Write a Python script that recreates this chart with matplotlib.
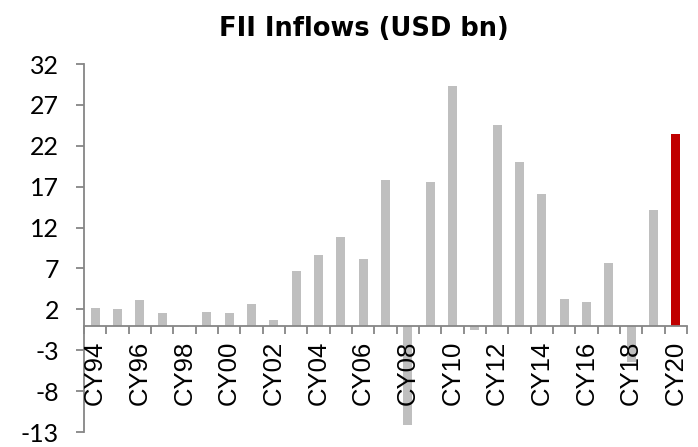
import matplotlib
matplotlib.use('Agg')
import matplotlib.pyplot as plt
import numpy as np

years = ['CY94', 'CY95', 'CY96', 'CY97', 'CY98', 'CY99', 'CY00', 'CY01', 'CY02',
         'CY03', 'CY04', 'CY05', 'CY06', 'CY07', 'CY08', 'CY09', 'CY10', 'CY11',
         'CY12', 'CY13', 'CY14', 'CY15', 'CY16', 'CY17', 'CY18', 'CY19', 'CY20']
inflows = [2.2, 2.1, 3.1, 1.6, -0.2, 1.7, 1.5, 2.7, 0.7,
           6.7, 8.6, 10.8, 8.1, 17.8, -12.2, 17.6, 29.3, -0.5,
           24.5, 20.0, 16.1, 3.3, 2.9, 7.7, -4.4, 14.2, 23.4]
y_ticks = [-13, -8, -3, 2, 7, 12, 17, 22, 27, 32]

grey = '#BFBFBF'
red = '#C00000'
axis_grey = '#868686'

fig = plt.figure(figsize=(6.98, 4.47), dpi=100)
ax = fig.add_axes([84 / 698, 1 - 432 / 447, (687 - 84) / 698, (432 - 64) / 447])

x = np.arange(len(years))
colors = [grey] * (len(years) - 1) + [red]
ax.bar(x, inflows, width=0.4, color=colors, zorder=1)
ax.set_axisbelow(False)  # labels drawn over the bars

ax.set_xlim(-0.5, len(years) - 0.5)
ax.set_ylim(-13, 32)
ax.set_yticks(y_ticks)
ax.set_yticklabels([str(t) for t in y_ticks], fontsize=18, family='Lato')

# x axis sits at zero, ticks at category boundaries
ax.spines['bottom'].set_position(('data', 0))
ax.spines['top'].set_visible(False)
ax.spines['right'].set_visible(False)
ax.spines['bottom'].set_color(axis_grey)
ax.spines['left'].set_color(axis_grey)
ax.spines['bottom'].set_linewidth(1.3)
ax.spines['left'].set_linewidth(1.3)

ax.set_xticks(np.arange(len(years) + 1) - 0.5)
ax.set_xticklabels([])
ax.tick_params(axis='x', which='major', direction='out', length=6,
               color=axis_grey, width=1.3)
ax.tick_params(axis='y', direction='out', length=6, color=axis_grey, width=1.3, pad=12)

ax.set_xticks(x[::2], minor=True)
ax.set_xticklabels(years[::2], minor=True, rotation=90, fontsize=18.5,
                   family='Liberation Sans')
ax.tick_params(axis='x', which='minor', length=0, pad=11)

fig.text(0.522, 0.935, 'FII Inflows (USD bn)', ha='center', va='center',
         fontsize=18.5, fontweight='bold', family='DejaVu Sans')

fig.savefig('out.png', dpi=100, facecolor='white')
